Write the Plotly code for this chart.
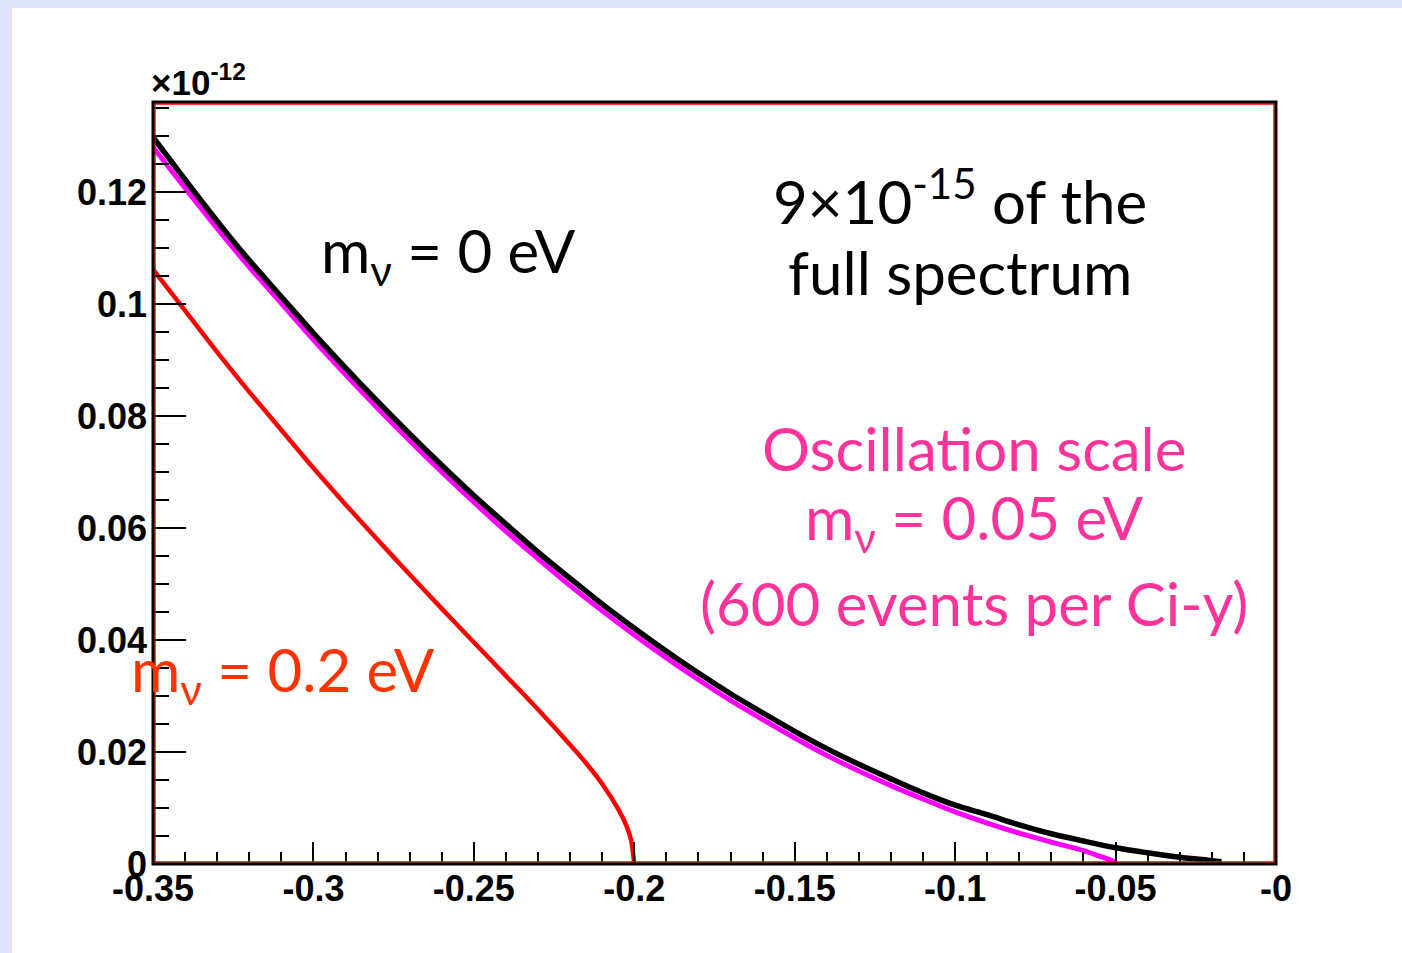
import plotly.graph_objects as go

# Beta spectrum near the endpoint, in units of 1e-12 of the full spectrum
x_m0 = [-0.35, -0.34, -0.33, -0.32, -0.31, -0.30, -0.29, -0.28, -0.27, -0.26,
        -0.25, -0.24, -0.23, -0.22, -0.21, -0.20, -0.19, -0.18, -0.17, -0.16,
        -0.15, -0.14, -0.13, -0.12, -0.11, -0.10, -0.09, -0.08, -0.07, -0.06,
        -0.05, -0.04, -0.03, -0.02, -0.017]
y_m0 = [0.1298, 0.1222, 0.1148, 0.1078, 0.1013, 0.0948, 0.0886, 0.0826, 0.0768, 0.0712,
        0.0658, 0.0607, 0.0557, 0.0510, 0.0464, 0.0421, 0.0380, 0.0341, 0.0304, 0.0270,
        0.0237, 0.0206, 0.0178, 0.0152, 0.0127, 0.0105, 0.0088, 0.0070, 0.0054, 0.0041,
        0.0029, 0.0020, 0.0012, 0.0006, 0.0004]

x_m005 = [-0.35, -0.34, -0.33, -0.32, -0.31, -0.30, -0.29, -0.28, -0.27, -0.26,
          -0.25, -0.24, -0.23, -0.22, -0.21, -0.20, -0.19, -0.18, -0.17, -0.16,
          -0.15, -0.14, -0.13, -0.12, -0.11, -0.10, -0.09, -0.08, -0.07, -0.06,
          -0.055, -0.0505, -0.05]
y_m005 = [0.1280, 0.1207, 0.1135, 0.1066, 0.1001, 0.0936, 0.0874, 0.0814, 0.0756, 0.0700,
          0.0646, 0.0594, 0.0545, 0.0497, 0.0452, 0.0409, 0.0368, 0.0329, 0.0292, 0.0258,
          0.0225, 0.0194, 0.0166, 0.0140, 0.0116, 0.0093, 0.0073, 0.0055, 0.0039, 0.0024,
          0.0014, 0.0004, 0.0]

x_m02 = [-0.35, -0.34, -0.33, -0.32, -0.31, -0.30, -0.29, -0.28, -0.27, -0.26,
         -0.25, -0.24, -0.23, -0.22, -0.215, -0.21, -0.205, -0.2025, -0.201, -0.2]
y_m02 = [0.1062, 0.0988, 0.0914, 0.0843, 0.0775, 0.0707, 0.0642, 0.0579, 0.0517, 0.0456,
         0.0396, 0.0336, 0.0276, 0.0213, 0.0180, 0.0143, 0.0098, 0.0069, 0.0043, 0.0]

x_tick_vals = [-0.35, -0.3, -0.25, -0.2, -0.15, -0.1, -0.05, 0.0]
x_tick_text = ["-0.35", "-0.3", "-0.25", "-0.2", "-0.15", "-0.1", "-0.05", "-0"]
x_minor_vals = [round(-0.35 + 0.01 * i, 3) for i in range(36)]

X_RANGE = [-0.35, 0.0]
Y_RANGE = [0.0, 0.13607]

LAVENDER = "#E1E5FB"
TEXT_FONT = "Lato"
TEXT_SIZE = 60
TICK_FONT = dict(family="Liberation Sans, Arial", size=36, color="black", weight="bold")

fig = go.Figure()
fig.add_trace(go.Scatter(x=x_m02, y=y_m02, mode="lines",
                         line=dict(color="#FF0000", width=4.5, shape="spline", smoothing=0.8)))
fig.add_trace(go.Scatter(x=x_m005, y=y_m005, mode="lines",
                         line=dict(color="#FF00FF", width=5, shape="spline", smoothing=0.8)))
fig.add_trace(go.Scatter(x=x_m0, y=y_m0, mode="lines",
                         line=dict(color="#000000", width=5.5, shape="spline", smoothing=0.8)))

W, H = 1402, 953
L, R, T, B = 153, 1276, 102, 864
pw, ph = R - L, B - T


def px_x(p):
    return (p - L) / pw


def px_y(p):
    return (B - p) / ph


shapes = [
    # light page border strips
    dict(type="rect", xref="paper", yref="paper", layer="below",
         x0=px_x(0), x1=px_x(12), y0=px_y(H), y1=px_y(0),
         fillcolor=LAVENDER, line_width=0),
    dict(type="rect", xref="paper", yref="paper", layer="below",
         x0=px_x(0), x1=px_x(W), y0=px_y(8), y1=px_y(0),
         fillcolor=LAVENDER, line_width=0),
    # frame: black outline with a thin red inner line
    dict(type="rect", xref="paper", yref="paper", layer="above",
         x0=px_x(L + 2), x1=px_x(R - 2), y0=px_y(B - 2), y1=px_y(T + 2),
         line=dict(color="#FF0000", width=1.5)),
    dict(type="rect", xref="paper", yref="paper", layer="above",
         x0=0, x1=1, y0=0, y1=1, line=dict(color="black", width=3)),
]

annotations = [
    dict(x=0, y=1, xref="paper", yref="paper", xanchor="left", yanchor="bottom",
         xshift=-4, yshift=-2, showarrow=False,
         text="×10<sup>-12</sup>",
         font=dict(family="Liberation Sans, Arial", size=35, color="black", weight="bold")),
    dict(x=-0.2578, y=0.1088, text="m<sub>ν</sub> = 0 eV", showarrow=False,
         font=dict(family=TEXT_FONT, size=TEXT_SIZE, color="black")),
    dict(x=-0.0985, y=0.1191, text="9×10<sup>-15</sup> of the", showarrow=False,
         font=dict(family=TEXT_FONT, size=TEXT_SIZE, color="black")),
    dict(x=-0.0985, y=0.1057, text="full spectrum", showarrow=False,
         font=dict(family=TEXT_FONT, size=TEXT_SIZE, color="black")),
    dict(x=-0.0941, y=0.0743, text="Oscillation scale", showarrow=False,
         font=dict(family=TEXT_FONT, size=TEXT_SIZE, color="#FF3399")),
    dict(x=-0.0941, y=0.0611, text="m<sub>ν</sub> = 0.05 eV", showarrow=False,
         font=dict(family=TEXT_FONT, size=TEXT_SIZE, color="#FF3399")),
    dict(x=-0.0941, y=0.0466, text="(600 events per Ci-y)", showarrow=False,
         font=dict(family=TEXT_FONT, size=TEXT_SIZE, color="#FF3399")),
    dict(x=-0.3095, y=0.0341, text="m<sub>ν</sub> = 0.2 eV", showarrow=False,
         font=dict(family=TEXT_FONT, size=TEXT_SIZE, color="#FF3300")),
]

fig.update_layout(
    width=W, height=H,
    margin=dict(l=L, r=W - R, t=T, b=H - B, pad=0),
    paper_bgcolor="white", plot_bgcolor="white",
    showlegend=False,
    shapes=shapes,
    annotations=annotations,
)

fig.update_xaxes(
    range=X_RANGE, showgrid=False, zeroline=False, showline=False,
    tickmode="array", tickvals=x_tick_vals, ticktext=x_tick_text,
    ticks="inside", ticklen=22, tickwidth=2, tickcolor="black",
    tickfont=TICK_FONT,
    minor=dict(tickmode="array", tickvals=x_minor_vals, ticks="inside",
               ticklen=12, tickwidth=2, tickcolor="black", showgrid=False),
)
fig.update_yaxes(
    range=Y_RANGE, showgrid=False, zeroline=False, showline=False,
    tickmode="linear", tick0=0, dtick=0.02,
    ticks="inside", ticklen=33, tickwidth=2, tickcolor="black",
    tickfont=TICK_FONT, ticklabelstandoff=5,
    minor=dict(tick0=0, dtick=0.005, ticks="inside",
               ticklen=16, tickwidth=2, tickcolor="black", showgrid=False),
)

fig.write_html("out.html")
